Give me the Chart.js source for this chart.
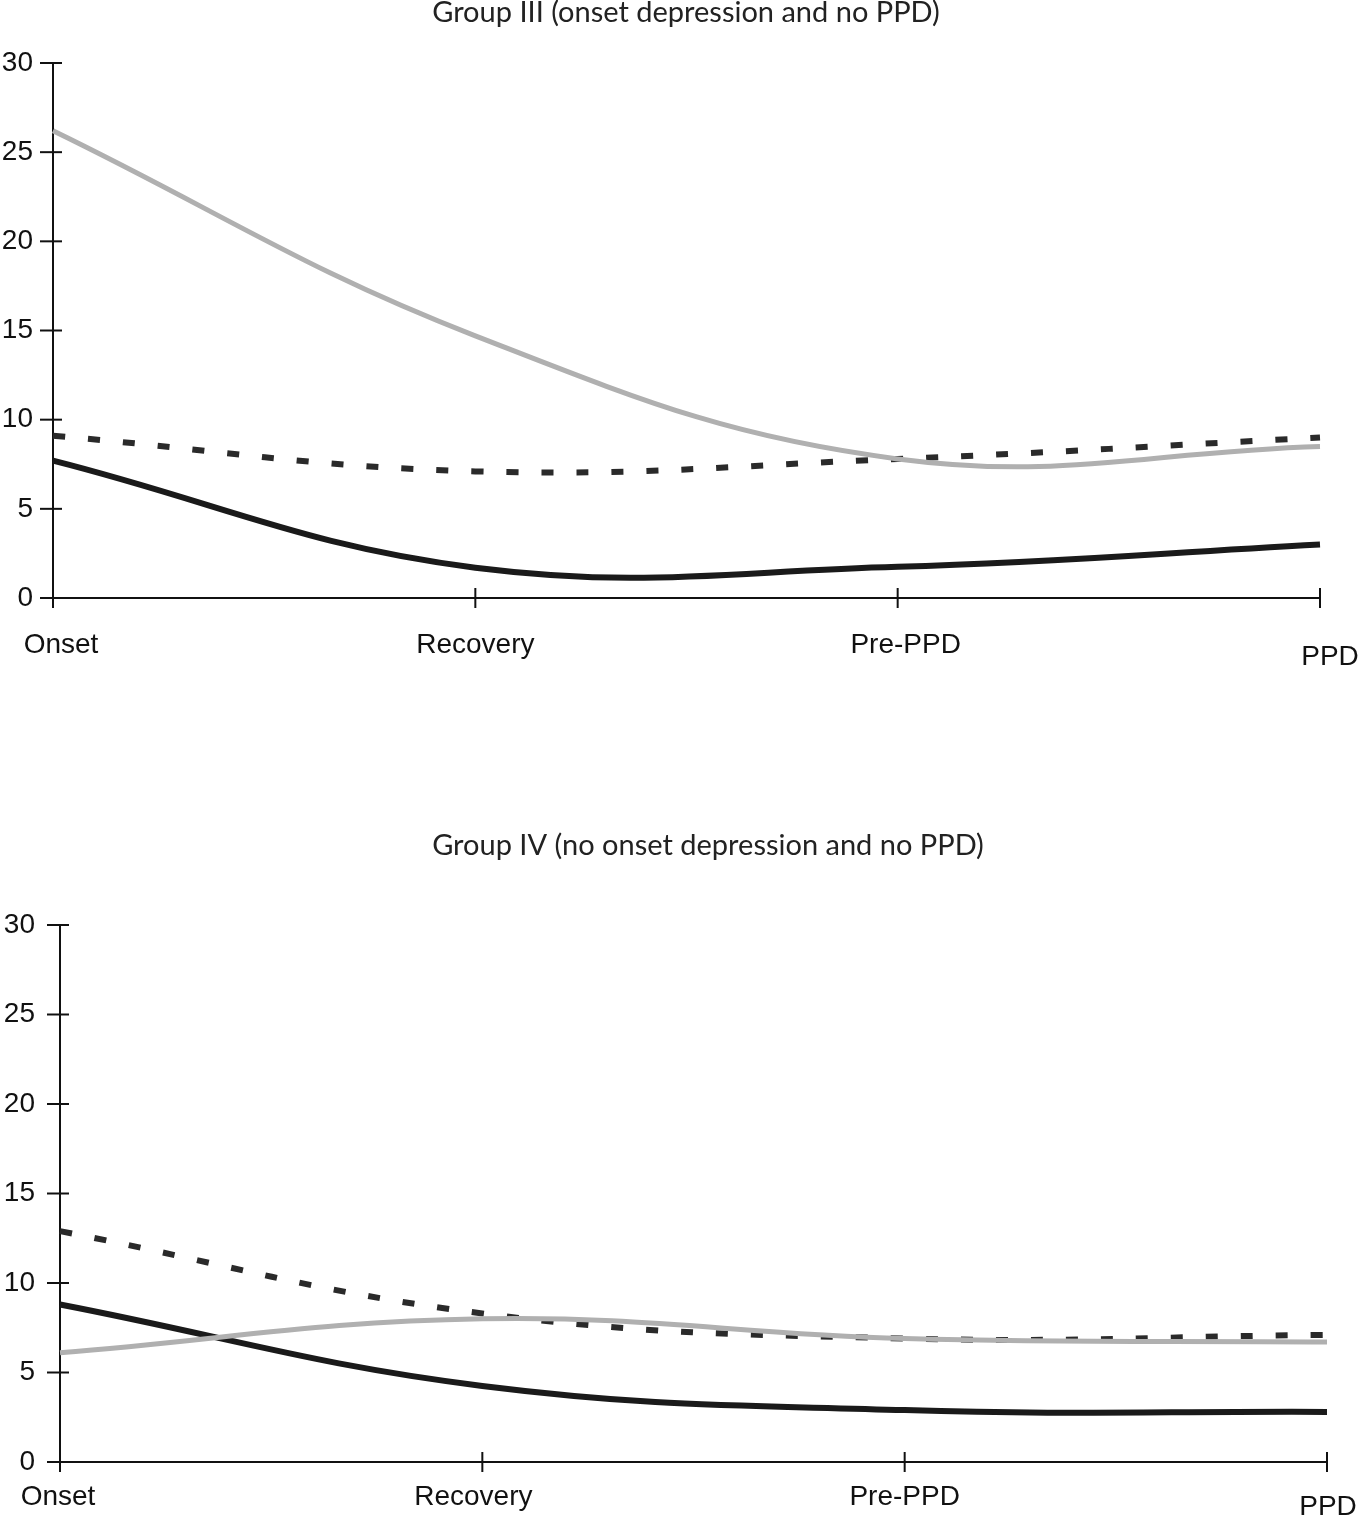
<!DOCTYPE html>
<html>
<head>
<meta charset="utf-8">
<script src="https://cdn.jsdelivr.net/npm/chart.js@4.4.1/dist/chart.umd.min.js"></script>
<style>
  body { margin: 0; background: #fff; }
  .box { position: absolute; left: 0; width: 1360px; }
  #top { top: 0; height: 700px; }
  #bottom { top: 700px; height: 820px; }
</style>
</head>
<body>
<div class="box" id="top"><canvas id="chart3"></canvas></div>
<div class="box" id="bottom"><canvas id="chart4"></canvas></div>
<script>
// categorias del eje x y ticks del eje y
const stages = ['Onset', 'Recovery', 'Pre-PPD', 'PPD'];
const yTicks = [0, 5, 10, 15, 20, 25, 30];

// Group III
const g3Gray = [26.2, 14.7, 7.8, 8.5];
const g3Dashed = [9.1, 7.1, 7.8, 9.0];
const g3Black = [7.7, 1.7, 1.75, 3.0];

// Group IV
const g4Gray = [6.1, 8.0, 6.9, 6.7];
const g4Dashed = [12.9, 8.3, 6.9, 7.1];
const g4Black = [8.8, 4.25, 2.9, 2.8];

// ejes cruzados, titulo y etiquetas de categorias
const crossAxes = {
    id: 'crossAxes',
    beforeDatasetsDraw(chart, args, opts) {
        var ctx = chart.ctx, x = chart.scales.x, y = chart.scales.y;
        var left = x.getPixelForValue(0), right = x.getPixelForValue(stages.length - 1);
        var bottom = y.getPixelForValue(0), top = y.getPixelForValue(30);
        ctx.save();
        ctx.strokeStyle = '#111';
        ctx.lineWidth = 2;
        function line(x1, y1, x2, y2) {
            ctx.beginPath(); ctx.moveTo(x1, y1); ctx.lineTo(x2, y2); ctx.stroke();
        }
        line(left, top, left, bottom + 10);
        yTicks.forEach(function (v) {
            var py = y.getPixelForValue(v);
            line(left - 13, py, left + 9, py);
        });
        line(left, bottom, right, bottom);
        for (var i = 1; i < stages.length; i++) {
            var px = x.getPixelForValue(i);
            line(px, bottom - 10, px, bottom + 10);
        }
        ctx.restore();
    },
    afterDraw(chart, args, opts) {
        var ctx = chart.ctx, x = chart.scales.x, y = chart.scales.y;
        var bottom = y.getPixelForValue(0);
        ctx.save();
        ctx.textAlign = 'center';
        ctx.textBaseline = 'middle';
        // titulo
        ctx.fillStyle = '#222';
        ctx.font = '29px Lato, "Open Sans", sans-serif';
        ctx.fillText(opts.title, opts.titleX, opts.titleY);
        // etiquetas
        ctx.fillStyle = '#111';
        ctx.font = '28px "Liberation Sans", Arial, sans-serif';
        stages.forEach(function (s, i) {
            ctx.fillText(s, x.getPixelForValue(i) + opts.dx[i], bottom + opts.base + opts.dy[i]);
        });
        ctx.restore();
    }
};

function makeChart(id, padTop, rightPad, yWidth, xHeight, labelPad, labels, gray, dashed, black) {
    var ctx = document.getElementById(id).getContext('2d');
    return new Chart(ctx, {
        type: 'line',
        data: {
            labels: stages,
            datasets: [{
                label: 'gray',
                data: gray,
                borderColor: '#b0b0b0',
                borderWidth: 5
            }, {
                label: 'dashed',
                data: dashed,
                borderColor: '#2a2a2a',
                borderWidth: 6,
                borderDash: [12, 23]
            }, {
                label: 'solid',
                data: black,
                borderColor: '#1a1a1a',
                borderWidth: 6
            }]
        },
        options: {
            responsive: true,
            maintainAspectRatio: false,
            animation: false,
            layout: { padding: { left: 0, right: rightPad, top: padTop, bottom: 0 } },
            elements: {
                point: { radius: 0 },
                line: { tension: 0.4, fill: false }
            },
            plugins: {
                legend: { display: false },
                tooltip: { enabled: false },
                title: { display: false },
                crossAxes: labels
            },
            scales: {
                x: {
                    type: 'category',
                    offset: false,
                    grid: { display: false },
                    border: { display: false },
                    ticks: { display: false },
                    afterFit: function (scale) { scale.height = xHeight; }
                },
                y: {
                    min: 0,
                    max: 30,
                    grid: { display: false, drawTicks: false },
                    border: { display: false },
                    ticks: {
                        stepSize: 5,
                        padding: labelPad,
                        color: '#111',
                        font: { family: 'Liberation Sans', size: 28 }
                    },
                    afterFit: function (scale) { scale.width = yWidth; }
                }
            }
        },
        plugins: [crossAxes]
    });
}

makeChart('chart3', 63, 40, 53, 102, 20,
    { title: 'Group III (onset depression and no PPD)', titleX: 686, titleY: 13,
      base: 47, dx: [8, 0, 8, 10], dy: [0, 0, 0, 12] }, g3Gray, g3Dashed, g3Black);

makeChart('chart4', 225, 33, 60, 58, 25,
    { title: 'Group IV (no onset depression and no PPD)', titleX: 708, titleY: 146,
      base: 35, dx: [-2, -9, 0, 1], dy: [0, 0, 0, 10] }, g4Gray, g4Dashed, g4Black);
</script>
</body>
</html>
